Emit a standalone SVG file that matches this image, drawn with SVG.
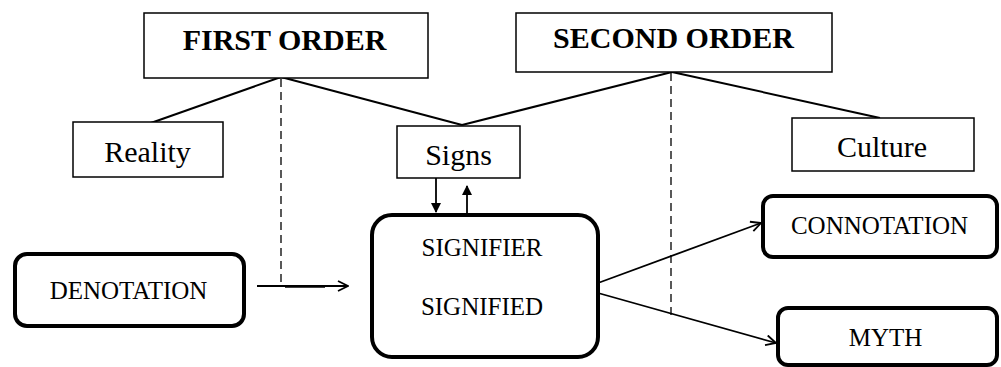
<svg xmlns="http://www.w3.org/2000/svg" width="1001" height="367" viewBox="0 0 1001 367">
  <style>
    .box { fill: #fff; stroke: #000; stroke-width: 1.5; }
    .rbox { fill: #fff; stroke: #000; stroke-width: 4; }
    text { font-family: 'Liberation Serif', 'DejaVu Serif', serif; fill: #000; text-anchor: middle; }
    .title { font-weight: bold; font-size: 30px; }
    .label { font-size: 30px; }
    .caps { font-size: 25px; }
    .link { fill: none; stroke: #000; stroke-width: 2; }
    .dash { fill: none; stroke: #000; stroke-width: 1.3; stroke-dasharray: 8 5; }
    .arrow { fill: none; stroke: #000; stroke-width: 1.8; }
  </style>
  <defs>
    <marker id="open" viewBox="0 0 12 12" refX="11" refY="6" markerWidth="12" markerHeight="12" markerUnits="userSpaceOnUse" orient="auto">
      <path d="M1,1 L11,6 L1,11" fill="none" stroke="#000" stroke-width="1.8"/>
    </marker>
    <marker id="solid" viewBox="0 0 10 10" refX="9" refY="5" markerWidth="10" markerHeight="10" markerUnits="userSpaceOnUse" orient="auto">
      <path d="M0,0 L10,5 L0,10 Z" fill="#000"/>
    </marker>
  </defs>

  <!-- connectors -->
  <g id="connectors">
    <line class="link" x1="281" y1="77" x2="148" y2="124"/>
    <line class="link" x1="281" y1="77" x2="462" y2="125"/>
    <line class="link" x1="462" y1="125" x2="672" y2="72"/>
    <line class="link" x1="672" y1="72" x2="880" y2="118"/>
    <line class="dash" x1="281" y1="79" x2="281" y2="286"/>
    <line class="dash" x1="671" y1="73" x2="671" y2="318"/>
    <line class="arrow" x1="257" y1="286" x2="348" y2="286" marker-end="url(#open)"/>
    <line x1="285" y1="286.5" x2="325" y2="286.5" stroke="#000" stroke-width="2.5"/>
    <line class="arrow" x1="436" y1="178" x2="436" y2="212" marker-end="url(#solid)"/>
    <line class="arrow" x1="467" y1="214" x2="467" y2="186" marker-end="url(#solid)"/>
    <line class="arrow" x1="598" y1="283" x2="761" y2="223" marker-end="url(#open)"/>
    <line class="arrow" x1="598" y1="293" x2="776" y2="343" marker-end="url(#open)"/>
  </g>

  <g id="first-order">
    <rect class="box" x="144" y="13" width="284" height="65"/>
    <text class="title" x="284.5" y="50">FIRST ORDER</text>
  </g>
  <g id="second-order">
    <rect class="box" x="516" y="13" width="316" height="59"/>
    <text class="title" x="673.5" y="48">SECOND ORDER</text>
  </g>
  <g id="reality">
    <rect class="box" x="73" y="122" width="150" height="55"/>
    <text class="label" x="147.5" y="162">Reality</text>
  </g>
  <g id="signs">
    <rect class="box" x="397" y="126" width="123" height="52"/>
    <text class="label" x="458.5" y="165">Signs</text>
  </g>
  <g id="culture">
    <rect class="box" x="792" y="118" width="182" height="53"/>
    <text class="label" x="882" y="157">Culture</text>
  </g>
  <g id="sign-core">
    <rect class="rbox" x="372" y="215" width="226" height="142" rx="20" ry="20"/>
    <text class="caps" x="482" y="256">SIGNIFIER</text>
    <text class="caps" x="482" y="315">SIGNIFIED</text>
  </g>
  <g id="denotation">
    <rect class="rbox" x="15" y="254" width="229" height="72" rx="12" ry="12" stroke-width="3.5"/>
    <text class="caps" x="128.5" y="299">DENOTATION</text>
  </g>
  <g id="connotation">
    <rect class="rbox" x="763" y="196" width="234" height="61" rx="10" ry="10" stroke-width="3.5"/>
    <text class="caps" x="879.5" y="234">CONNOTATION</text>
  </g>
  <g id="myth">
    <rect class="rbox" x="778" y="308" width="219" height="57" rx="10" ry="10" stroke-width="3.5"/>
    <text class="caps" x="885.5" y="346">MYTH</text>
  </g>
</svg>
